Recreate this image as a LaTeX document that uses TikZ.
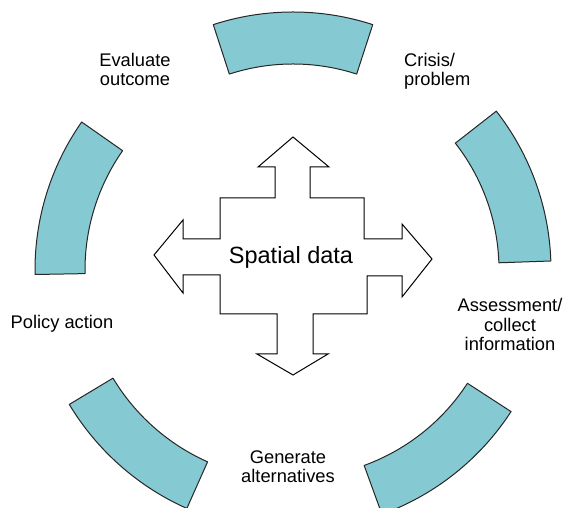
\documentclass[tikz,border=0pt]{standalone}
\usepackage{fontspec}
\setmainfont{Liberation Sans}
\definecolor{segfill}{RGB}{133,201,210}
\begin{document}
\begin{tikzpicture}[x=1pt,y=1pt,
  seg/.style={fill=segfill,draw=black!85,line width=1pt,line join=round},
  lbl/.style={font=\fontsize{18.3}{19.5}\selectfont,align=center,inner sep=0pt},
  bigarrow/.style={draw=black,line width=1pt,fill=white,line join=miter}]
\clip (0,0) rectangle (565,508);
\coordinate (c) at (293,238);
\foreach \a/\b/\ri/\ro in {72/108/206/258, 2/38/206/258, 145/181/208/258, -149/-114/210/261, -70/-33/208/260}{
  \draw[seg] ([shift={(\a:\ro pt)}]c) arc[start angle=\a,end angle=\b,radius=\ro pt]
     -- ([shift={(\b:\ri pt)}]c) arc[start angle=\b,end angle=\a,radius=\ri pt] -- cycle;
}
\draw[bigarrow] (293,371) -- (329,341) -- (310,341) -- (310,310) -- (364,310) -- (364,269)
  -- (402,269) -- (402,284) -- (432,249) -- (402,211) -- (402,232) -- (367,232) -- (367,194)
  -- (313,194) -- (313,154) -- (328,154) -- (293,133) -- (257,154) -- (277,154) -- (277,194)
  -- (220,194) -- (220,233) -- (183,233) -- (183,215) -- (154,253) -- (183,288) -- (183,269)
  -- (220,269) -- (220,310) -- (275,310) -- (275,341) -- (258,341) -- cycle;
\node[lbl,font=\fontsize{23.5}{26}\selectfont] (spatial) at (291,251) {Spatial data};
\node[lbl] (evaluate) at (135,438.5) {Evaluate\\outcome};
\node[lbl,align=left,anchor=west] (crisis) at (404,436.5) {Crisis/\\problem};
\node[lbl] (assess) at (510,183.5) {Assessment/\\collect\\information};
\node[lbl] (policy) at (62,184) {Policy action};
\node[lbl] (generate) at (288,41.5) {Generate\\alternatives};
\end{tikzpicture}
\end{document}
